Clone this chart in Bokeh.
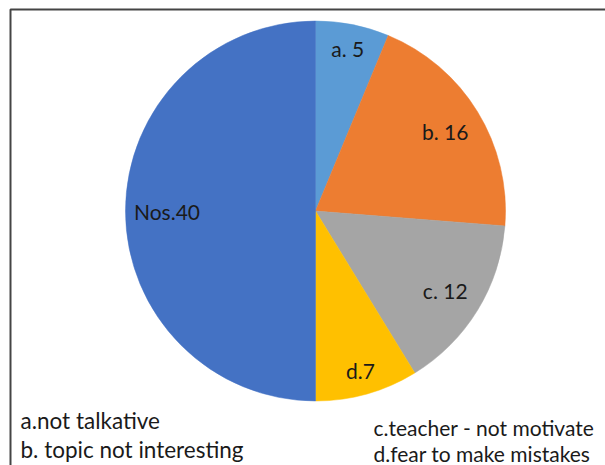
import math
from bokeh.plotting import figure
from bokeh.models import ColumnDataSource
from bokeh.core.properties import value
from bokeh.embed import file_html
from bokeh.resources import INLINE

# Survey responses: reasons for not speaking
categories = ["a", "b", "c", "d", "Nos"]
counts = [5, 16, 12, 7, 40]
slice_labels = ["a. 5", "b. 16", "c. 12", "d.7", "Nos.40"]
colors = ["#5B9BD5", "#ED7D31", "#A5A5A5", "#FFC000", "#4472C4"]
legend_left = ["a.not talkative", "b. topic not interesting"]
legend_right = ["c.teacher - not motivate", " d.fear to make mistakes"]

W, H = 605, 465
FONT = "Lato"
LABEL_FS = 21
NOTE_FS_LEFT = 22.5
NOTE_FS_RIGHT = 21

p = figure(width=W, height=H, x_range=(0, W), y_range=(0, H),
           output_backend="svg", toolbar_location=None, min_border=0)
p.axis.visible = False
p.grid.visible = False
p.outline_line_color = None
p.background_fill_color = "white"
p.border_fill_color = "white"

def fy(y):
    return H - y

cx, cy, r = 315, fy(210.5), 190

total = sum(counts)
starts, ends, mids = [], [], []
acc = 0
for c in counts:
    a0 = math.pi / 2 - 2 * math.pi * acc / total
    acc += c
    a1 = math.pi / 2 - 2 * math.pi * acc / total
    starts.append(a0)
    ends.append(a1)
    mids.append((a0 + a1) / 2)

src = ColumnDataSource(dict(start=starts, end=ends, color=colors, cat=categories))
p.wedge(x=cx, y=cy, radius=r, start_angle="start", end_angle="end",
        direction="clock", fill_color="color", line_color="color",
        line_width=0.5, source=src)

# Data labels sit just inside the rim, pulled in by their box extent
char_w = LABEL_FS * 0.5
box_h = LABEL_FS
pad = 10
lx, ly = [], []
for lab, m in zip(slice_labels, mids):
    w = len(lab) * char_w
    ext = abs(math.cos(m)) * w / 2 + abs(math.sin(m)) * box_h / 2
    d = r - pad - ext
    lx.append(cx + d * math.cos(m))
    ly.append(cy + d * math.sin(m))
p.text(x=lx, y=ly, text=slice_labels, text_align="center",
       text_baseline="middle", text_font=value(FONT),
       text_font_size=f"{LABEL_FS}px", text_color="#1a1a1a")

# Explanation of the category letters
p.text(x=[20, 20], y=[fy(420), fy(449)], text=legend_left,
       text_baseline="alphabetic", text_font=value(FONT),
       text_font_size=f"{NOTE_FS_LEFT}px", text_color="#1a1a1a")
p.text(x=[373, 373], y=[fy(427), fy(453)], text=legend_right,
       text_baseline="alphabetic", text_font=value(FONT),
       text_font_size=f"{NOTE_FS_RIGHT}px", text_color="#1a1a1a")

# Chart frame (top and left edges)
p.line(x=[10, 10, W + 5], y=[-5, fy(9), fy(9)], line_color="#444444",
       line_width=2)

open("out.html", "w").write(file_html(p, INLINE))
